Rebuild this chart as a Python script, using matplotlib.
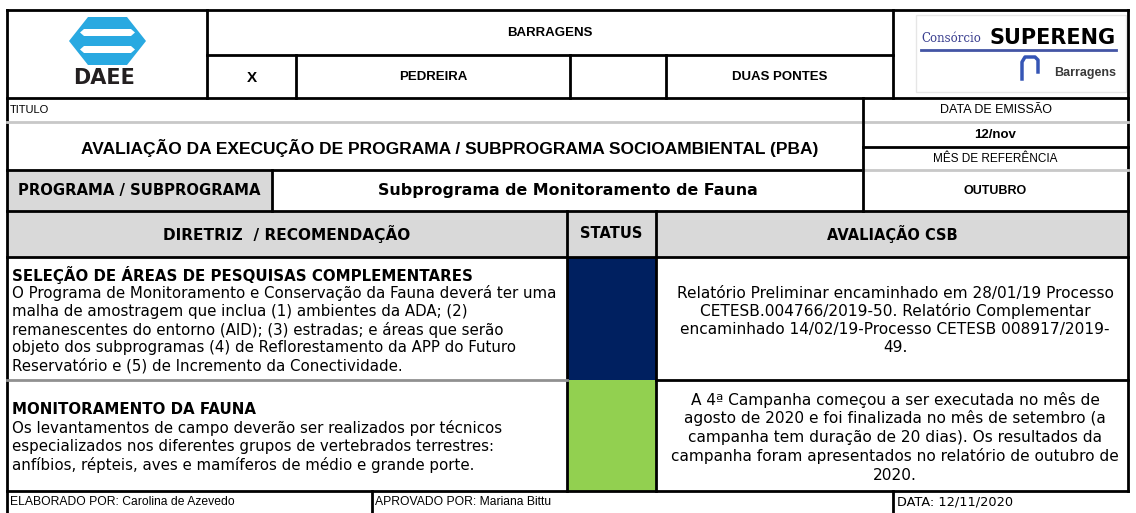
import matplotlib.pyplot as plt
from matplotlib.patches import Rectangle, Polygon

# ---- content of the form ----
header_top = "BARRAGENS"
header_options = ["X", "PEDREIRA", "", "DUAS PONTES"]
titulo_label = "TITULO"
titulo_text = "AVALIAÇÃO DA EXECUÇÃO DE PROGRAMA / SUBPROGRAMA SOCIOAMBIENTAL (PBA)"
emissao_label = "DATA DE EMISSÃO"
emissao_value = "12/nov"
referencia_label = "MÊS DE REFERÊNCIA"
referencia_value = "OUTUBRO"
programa_label = "PROGRAMA / SUBPROGRAMA"
programa_value = "Subprograma de Monitoramento de Fauna"
col_headers = ["DIRETRIZ  / RECOMENDAÇÃO", "STATUS", "AVALIAÇÃO CSB"]

diretriz_titles = ["SELEÇÃO DE ÁREAS DE PESQUISAS COMPLEMENTARES",
                   "MONITORAMENTO DA FAUNA"]
diretriz_lines = [
    ["O Programa de Monitoramento e Conservação da Fauna deverá ter uma",
     "malha de amostragem que inclua (1) ambientes da ADA; (2)",
     "remanescentes do entorno (AID); (3) estradas; e áreas que serão",
     "objeto dos subprogramas (4) de Reflorestamento da APP do Futuro",
     "Reservatório e (5) de Incremento da Conectividade."],
    ["Os levantamentos de campo deverão ser realizados por técnicos",
     "especializados nos diferentes grupos de vertebrados terrestres:",
     "anfíbios, répteis, aves e mamíferos de médio e grande porte."],
]
status_colors = ["#002060", "#92d050"]
avaliacao_lines = [
    ["Relatório Preliminar encaminhado em 28/01/19 Processo",
     "CETESB.004766/2019-50. Relatório Complementar",
     "encaminhado 14/02/19-Processo CETESB 008917/2019-",
     "49."],
    ["A 4ª Campanha começou a ser executada no mês de",
     "agosto de 2020 e foi finalizada no mês de setembro (a",
     "campanha tem duração de 20 dias). Os resultados da",
     "campanha foram apresentados no relatório de outubro de",
     "2020."],
]
footer = ["ELABORADO POR: Carolina de Azevedo",
          "APROVADO POR: Mariana Bittu",
          "DATA: 12/11/2020"]

# ---- layout (pixel grid, y downwards) ----
W, H = 1136, 513
L, R, T = 7, 1128, 10
y_hmid, y_head = 55, 98
y_tit, y_tit2, y_emi = 122, 170, 147
y_prog, y_cols = 211, 257
row_y = [257, 380, 491]
x_logo, x_logo2 = 207, 893
x_opts = [207, 296, 570, 666, 893]
x_right = 863
x_prog = 272
x_cols = [L, 567, 656, R]
x_foot = [L, 372, 893]

GRAY = "#d9d9d9"
LGRAY = "#c8c8c8"
ARIAL = "Liberation Sans"
VERD = "DejaVu Sans"
lw = 2.0
body_fs = 10.8

fig = plt.figure(figsize=(W / 100, H / 100), dpi=100)
ax = fig.add_axes([0, 0, 1, 1])
ax.set_xlim(0, W)
ax.set_ylim(H, 0)
ax.axis("off")


def hline(y, x0, x1, c="black", w=lw):
    ax.plot([x0, x1], [y, y], color=c, lw=w, solid_capstyle="projecting")


def vline(x, y0, y1, c="black", w=lw):
    ax.plot([x, x], [y0, y1], color=c, lw=w, solid_capstyle="projecting")


def fill(x0, y0, x1, y1, c):
    ax.add_patch(Rectangle((x0, y0), x1 - x0, y1 - y0, color=c, lw=0))


# fills
fill(L, y_tit2, x_prog, y_prog, GRAY)
fill(L, y_prog, R, y_cols, GRAY)
for i, c in enumerate(status_colors):
    fill(x_cols[1], row_y[i], x_cols[2], row_y[i + 1], c)

# header block
hline(T, L, R)
hline(y_hmid, x_logo, x_logo2)
hline(y_head, L, R)
vline(L, T, H)
vline(R, T, row_y[-1])
vline(x_logo, T, y_head)
vline(x_logo2, T, y_head)
for x in x_opts[1:-1]:
    vline(x, y_hmid, y_head)

ax.text((x_logo + x_logo2) / 2, (T + y_hmid) / 2, header_top, ha="center",
        va="center", fontsize=9.5, fontweight="bold", family=ARIAL)
for i, s in enumerate(header_options):
    fs = 11 if s == "X" else 9.5
    ax.text((x_opts[i] + x_opts[i + 1]) / 2, (y_hmid + y_head) / 2 + 1, s,
            ha="center", va="center", fontsize=fs, fontweight="bold", family=ARIAL)

# DAEE logo
blue = "#29a9e1"
ax.add_patch(Polygon([(88, 17), (127, 17), (146, 41), (127, 65), (88, 65), (69, 41)],
                     closed=True, color=blue, lw=0))
for ys in [(29, 36), (46, 53)]:
    ym = (ys[0] + ys[1]) / 2
    ax.add_patch(Polygon([(84, ys[0]), (131, ys[0]), (135, ym),
                          (131, ys[1]), (84, ys[1]), (80, ym)],
                         closed=True, color="white", lw=0))
ax.text(104, 78, "DAEE", ha="center", va="center", fontsize=15,
        fontweight="bold", family=VERD, color="#231f20")

# SUPERENG logo
ax.add_patch(Rectangle((916, 15), 210, 77, fill=False, ec="#e6e6e6", lw=1))
ax.text(921, 42, "Consórcio", ha="left", va="baseline", fontsize=8.5,
        family="DejaVu Serif", color="#3a3f8f")
ax.text(1116, 44, "SUPERENG", ha="right", va="baseline", fontsize=15,
        fontweight="heavy", family=VERD, color="black")
ax.plot([921, 1116], [50, 50], color="#4355a5", lw=2)
ax.plot([1022, 1022, 1025, 1035, 1038, 1038], [79, 62, 57, 57, 60, 72],
        color="#3555b5", lw=2.5)
ax.text(1116, 76, "Barragens", ha="right", va="baseline", fontsize=9,
        fontweight="bold", family=ARIAL, color="#3a3a3a")

# title block
hline(y_tit, L, R, c=LGRAY)
hline(y_tit2, L, x_right)
hline(y_tit2, x_right, R, c=LGRAY)
hline(y_emi, x_right, R)
hline(y_prog, L, R)
vline(x_right, y_head, y_prog)
vline(x_prog, y_tit2, y_prog)

ax.text(L + 3, (y_head + y_tit) / 2, titulo_label, ha="left", va="center",
        fontsize=8, family=ARIAL)
ax.text(450, (y_tit + y_tit2) / 2 + 2, titulo_text, ha="center", va="center",
        fontsize=12.5, fontweight="bold", family=ARIAL)
xc = (x_right + R) / 2
ax.text(xc, (y_head + y_tit) / 2, emissao_label, ha="center", va="center",
        fontsize=9, family=ARIAL)
ax.text(xc, (y_tit + y_emi) / 2, emissao_value, ha="center", va="center",
        fontsize=9.5, fontweight="bold", family=ARIAL)
ax.text(xc, (y_emi + y_tit2) / 2, referencia_label, ha="center", va="center",
        fontsize=8.5, family=ARIAL)
ax.text(xc, (y_tit2 + y_prog) / 2, referencia_value, ha="center", va="center",
        fontsize=9, fontweight="bold", family=ARIAL)
ax.text((L + x_prog) / 2, (y_tit2 + y_prog) / 2, programa_label, ha="center",
        va="center", fontsize=10.7, fontweight="bold", family=VERD)
ax.text((x_prog + x_right) / 2, (y_tit2 + y_prog) / 2, programa_value,
        ha="center", va="center", fontsize=11.4, fontweight="bold", family=VERD)

# column header row
hline(y_cols, L, R)
for x in x_cols[1:3]:
    vline(x, y_prog, row_y[-1])
hdr_fs = [11.1, 10.5, 10.5]
for i, s in enumerate(col_headers):
    ax.text((x_cols[i] + x_cols[i + 1]) / 2, (y_prog + y_cols) / 2, s,
            ha="center", va="center", fontsize=hdr_fs[i], fontweight="bold", family=VERD)

# body rows
hline(row_y[1], L, x_cols[1], c="#909090")
hline(row_y[1], x_cols[2], R)
hline(row_y[2], L, R)
dy = 18.2
left_top = [275, 410]
for i in range(2):
    y = left_top[i]
    ax.text(L + 5, y, diretriz_titles[i], ha="left", va="center",
            fontsize=body_fs, fontweight="bold", family=VERD)
    for j, s in enumerate(diretriz_lines[i]):
        ax.text(L + 5, y + dy * (j + 1), s, ha="left", va="center",
                fontsize=body_fs, family=VERD)
    lines = avaliacao_lines[i]
    yc = (row_y[i] + row_y[i + 1]) / 2 + 2
    sp = 18.3 if i == 0 else 19
    y0 = yc - sp * (len(lines) - 1) / 2
    for j, s in enumerate(lines):
        ax.text((x_cols[2] + R) / 2 + 3, y0 + sp * j, s, ha="center",
                va="center", fontsize=11.1, family=VERD)

# footer
for x in x_foot[1:]:
    vline(x, row_y[-1], H)
ax.text(L + 3, 502, footer[0], ha="left", va="center", fontsize=8.7,
        family=["Liberation Sans Narrow", ARIAL])
ax.text(x_foot[1] + 3, 502, footer[1], ha="left", va="center", fontsize=8.7,
        family=["Liberation Sans Narrow", ARIAL])
ax.text(x_foot[2] + 4, 502, footer[2], ha="left", va="center", fontsize=9.3,
        family=VERD)

fig.savefig("out.png", dpi=100)
